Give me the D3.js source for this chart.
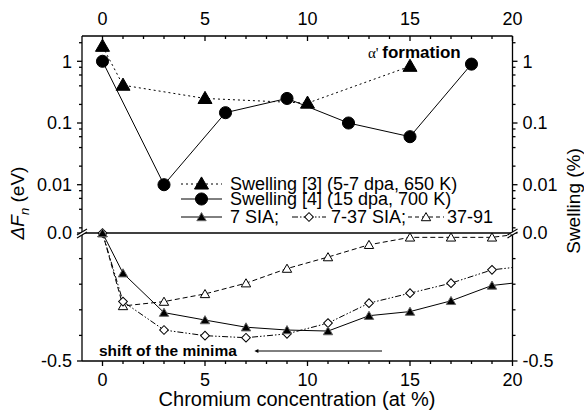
<!DOCTYPE html>
<html>
<head>
<meta charset="utf-8">
<script src="https://cdn.jsdelivr.net/npm/d3@7"></script>
<style>
  body { margin: 0; background: #fff; }
  svg { font-family: "Liberation Sans", Arial, sans-serif; }
</style>
</head>
<body>
<div id="chart"></div>
<script>
'use strict'

// Swelling data (upper, log panel)
const swell3Cr = [0, 1, 5, 10, 15];
const swell3Val = [1.75, 0.41, 0.25, 0.21, 0.83];
const swell4Cr = [0, 3, 6, 9, 12, 15, 18];
const swell4Val = [1.0, 0.01, 0.147, 0.25, 0.1, 0.06, 0.9];

// ΔF_n data (lower, linear panel)
const crConc = [0, 1, 3, 5, 7, 9, 11, 13, 15, 17, 19];
const sia7 = [0, -0.157, -0.311, -0.34, -0.368, -0.379, -0.383, -0.323, -0.307, -0.265, -0.205];
const sia737 = [0, -0.268, -0.379, -0.401, -0.409, -0.394, -0.352, -0.274, -0.235, -0.196, -0.144];
const sia3791 = [0, -0.285, -0.268, -0.238, -0.196, -0.139, -0.094, -0.046, -0.017, -0.017, -0.017];
// values where the curves leave the frame at x = 20
const edgeCr = 20;
const edgeVals = [-0.196, -0.135, -0.007];

const xTicks = [0, 5, 10, 15, 20];
const logTicks = [1, 0.1, 0.01];
const logTickLabels = ["1", "0.1", "0.01"];
const linTicks = [0, -0.5];
const linTickLabels = ["0.0", "-0.5"];

const width = 584, height = 410;
const pLeft = 82, pRight = 512.5, pTop = 36, pBrk = 233, pBottom = 361;

const svg = d3.select("#chart").append("svg")
    .attr("width", width)
    .attr("height", height);

const x = d3.scaleLinear().domain([-1, 20]).range([pLeft, pRight]);
const yLog = d3.scaleLog().domain([0.00165, 2.57]).range([pBrk, pTop]);
const yLin = d3.scaleLinear().domain([-0.5, 0]).range([pBottom, pBrk]);

svg.append("clipPath").attr("id", "clip")
    .append("rect")
    .attr("x", pLeft).attr("y", pTop)
    .attr("width", pRight - pLeft).attr("height", pBottom - pTop);

// frame
const frame = svg.append("g").attr("stroke", "#000").attr("stroke-width", 1.3);
frame.append("line").attr("x1", pLeft).attr("x2", pRight).attr("y1", pTop).attr("y2", pTop);
frame.append("line").attr("x1", pLeft).attr("x2", pRight).attr("y1", pBottom).attr("y2", pBottom);
frame.append("line").attr("x1", pLeft).attr("x2", pRight).attr("y1", pBrk).attr("y2", pBrk);
frame.append("line").attr("x1", pLeft).attr("x2", pLeft).attr("y1", pTop).attr("y2", pBottom);
frame.append("line").attr("x1", pRight).attr("x2", pRight).attr("y1", pTop).attr("y2", pBottom);

// x ticks (top inward, bottom outward)
const xMinor = d3.range(0, 21);
xMinor.forEach(v => {
    const len = xTicks.includes(v) ? 5 : 3;
    frame.append("line").attr("x1", x(v)).attr("x2", x(v)).attr("y1", pTop).attr("y2", pTop + len);
    frame.append("line").attr("x1", x(v)).attr("x2", x(v)).attr("y1", pBottom).attr("y2", pBottom + len);
});
xTicks.forEach(v => {
    svg.append("text").attr("x", x(v)).attr("y", 25)
        .attr("text-anchor", "middle").style("font-size", "18px").text(v);
    svg.append("text").attr("x", x(v)).attr("y", 386)
        .attr("text-anchor", "middle").style("font-size", "18px").text(v);
});

// y ticks, both sides outward
function yTick(y, len) {
    frame.append("line").attr("x1", pLeft - len).attr("x2", pLeft).attr("y1", y).attr("y2", y);
    frame.append("line").attr("x1", pRight).attr("x2", pRight + len).attr("y1", y).attr("y2", y);
}
[0.002, 0.004, 0.006, 0.008, 0.02, 0.04, 0.06, 0.08, 0.2, 0.4, 0.6, 0.8, 2]
    .forEach(v => yTick(yLog(v), 3));
logTicks.forEach(v => yTick(yLog(v), 5));
d3.range(-0.4, 0, 0.1).forEach(v => yTick(yLin(v), 3));
linTicks.forEach(v => yTick(yLin(v), 5));

function yLabel(y, t) {
    svg.append("text").attr("x", pLeft - 10).attr("y", y).attr("dy", "0.35em")
        .attr("text-anchor", "end").style("font-size", "18px").text(t);
    svg.append("text").attr("x", pRight + 10).attr("y", y).attr("dy", "0.35em")
        .attr("text-anchor", "start").style("font-size", "18px").text(t);
}
logTicks.forEach((v, i) => yLabel(yLog(v), logTickLabels[i]));
linTicks.forEach((v, i) => yLabel(yLin(v), linTickLabels[i]));

// axis break marks
[pLeft, pRight].forEach(ax => {
    const g = svg.append("g");
    g.append("polygon")
        .attr("points", `${ax - 5},${pBrk + 2} ${ax + 5},${pBrk - 4} ${ax + 5},${pBrk - 1} ${ax - 5},${pBrk + 5}`)
        .attr("fill", "#fff");
    [0, 3].forEach(o => g.append("line")
        .attr("x1", ax - 5).attr("y1", pBrk + 2 + o)
        .attr("x2", ax + 5).attr("y2", pBrk - 4 + o)
        .attr("stroke", "#000").attr("stroke-width", 1.1));
});

// axis titles
svg.append("text").attr("x", 297).attr("y", 406)
    .attr("text-anchor", "middle").style("font-size", "20px")
    .text("Chromium concentration (at %)");

const lt = svg.append("text")
    .attr("transform", "translate(24,203) rotate(-90)")
    .attr("text-anchor", "middle").style("font-size", "19px");
lt.append("tspan").style("font-style", "italic").text("ΔF");
lt.append("tspan").style("font-style", "italic").style("font-size", "13px").attr("dy", 5).text("n");
lt.append("tspan").attr("dy", -5).text(" (eV)");

svg.append("text")
    .attr("transform", "translate(580,201) rotate(-90)")
    .attr("text-anchor", "middle").style("font-size", "19px")
    .text("Swelling (%)");

// symbols
const triBig = d3.symbol().type(d3.symbolTriangle).size(85);
const circBig = d3.symbol().type(d3.symbolCircle).size(115);
const triSmall = d3.symbol().type(d3.symbolTriangle).size(38);
const diaSmall = d3.symbol().type(d3.symbolSquare).size(38);

const plot = svg.append("g").attr("clip-path", "url(#clip)");

function series(xs, ys, yScale, dash) {
    const pts = xs.map((c, i) => [x(c), yScale(ys[i])]);
    plot.append("path")
        .attr("d", d3.line()(pts))
        .attr("fill", "none").attr("stroke", "#000").attr("stroke-width", 1)
        .attr("stroke-dasharray", dash);
}

// swelling lines
series(swell3Cr, swell3Val, yLog, "2,3");
series(swell4Cr, swell4Val, yLog, null);

// ΔF lines
series(crConc.concat([edgeCr]), sia3791.concat([edgeVals[2]]), yLin, "5,3");
series(crConc.concat([edgeCr]), sia737.concat([edgeVals[1]]), yLin, "6,2,1.5,2,1.5,2");
series(crConc.concat([edgeCr]), sia7.concat([edgeVals[0]]), yLin, null);

function marks(xs, ys, yScale, sym, fill, stroke, dy, rot) {
    svg.append("g").selectAll("path")
        .data(xs)
        .enter().append("path")
        .attr("d", sym)
        .attr("transform", (d, i) => `translate(${x(d)},${yScale(ys[i]) + (dy || 0)}) rotate(${rot || 0})`)
        .attr("fill", fill).attr("stroke", stroke).attr("stroke-width", 1);
}
marks(swell3Cr, swell3Val, yLog, triBig, "#000", "#000", 1);
marks(swell4Cr, swell4Val, yLog, circBig, "#000", "#000");
marks(crConc, sia3791, yLin, triSmall, "#fff", "#000", 1);
marks(crConc, sia737, yLin, diaSmall, "#fff", "#000", 0, 45);
marks(crConc, sia7, yLin, triSmall, "#000", "#666", 1);

// alpha' annotation
const af = svg.append("text").attr("x", 368).attr("y", 58).style("font-size", "17px");
af.append("tspan").style("font-family", "Liberation Serif, serif").style("font-size", "15px").text("α' ");
af.append("tspan").style("font-weight", "bold").text("formation");

// shift of the minima
svg.append("text").attr("x", 99).attr("y", 356)
    .style("font-size", "15.5px").style("font-weight", "bold")
    .text("shift of the minima");
svg.append("defs").append("marker")
    .attr("id", "arrow").attr("viewBox", "0 0 10 10")
    .attr("refX", 1).attr("refY", 5)
    .attr("markerWidth", 10).attr("markerHeight", 4)
    .attr("orient", "auto-start-reverse")
    .append("path").attr("d", "M0,0 L10,5 L0,10 z").attr("fill", "#000");
svg.append("line").attr("x1", 382).attr("x2", 258).attr("y1", 351).attr("y2", 351)
    .attr("stroke", "#000").attr("stroke-width", 1)
    .attr("marker-end", "url(#arrow)");

// legend
const lg = svg.append("g").style("font-size", "18px").style("white-space", "pre");
function legSample(x0, x1, y, dash, sym, fill, stroke, dy, rot) {
    lg.append("line").attr("x1", x0).attr("x2", x1).attr("y1", y).attr("y2", y)
        .attr("stroke", "#000").attr("stroke-width", 1).attr("stroke-dasharray", dash);
    lg.append("path").attr("d", sym)
        .attr("transform", `translate(${(x0 + x1) / 2},${y + (dy || 0)}) rotate(${rot || 0})`)
        .attr("fill", fill).attr("stroke", stroke);
}
legSample(181, 222, 184, "2,3", triBig, "#000", "#000", 1);
lg.append("text").attr("x", 230).attr("y", 190).text("Swelling [3] (5-7 dpa, 650 K)");
legSample(181, 222, 199, null, circBig, "#000", "#000");
lg.append("text").attr("x", 230).attr("y", 205).text("Swelling [4] (15  dpa, 700 K)");
legSample(181, 222, 217, null, triSmall, "#000", "#666", 1);
lg.append("text").attr("x", 230).attr("y", 223).text("7 SIA;");
legSample(292, 326, 217, "6,2,1.5,2,1.5,2", diaSmall, "#fff", "#000", 0, 45);
lg.append("text").attr("x", 331).attr("y", 223).text("7-37 SIA;");
legSample(408, 444, 217, "4,3", triSmall, "#fff", "#000", 1);
lg.append("text").attr("x", 447).attr("y", 223).text("37-91");
</script>
</body>
</html>
